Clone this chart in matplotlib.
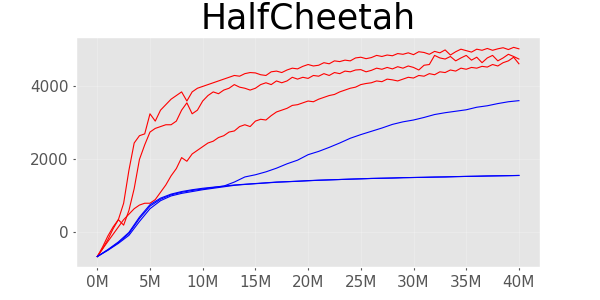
import numpy as np
import matplotlib
matplotlib.use("Agg")
import matplotlib.pyplot as plt

# passos (milhoes) - curvas vermelhas a cada 0.5M, azuis a cada 1M
x_red = np.arange(0, 40.5, 0.5)
x_blue = np.arange(0, 41, 1)

red_1 = [-660, -450, -200, 100, 350, 800, 1700, 2450, 2650, 2700,
         3250, 3050, 3350, 3500, 3650, 3750, 3850, 3600, 3850, 3950,
         4000, 4050, 4100, 4150, 4200, 4250, 4300, 4280, 4350, 4380,
         4370, 4320, 4300, 4400, 4420, 4380, 4450, 4500, 4480, 4550,
         4600, 4560, 4580, 4650, 4620, 4700, 4680, 4720, 4700, 4780,
         4800, 4760, 4790, 4850, 4820, 4860, 4840, 4900, 4880, 4920,
         4870, 4950, 4930, 4880, 4960, 4920, 5000, 4860, 4950, 5020,
         4980, 4940, 5020, 4990, 5040, 4990, 5030, 5060, 5010, 5070,
         5030]

red_2 = [-660, -400, -100, 150, 350, 200, 600, 1200, 2000, 2400,
         2750, 2850, 2900, 2950, 2950, 3050, 3350, 3550, 3250, 3350,
         3600, 3750, 3850, 3800, 3900, 3950, 4050, 3980, 3950, 3900,
         3950, 4050, 4100, 4050, 4150, 4100, 4150, 4250, 4200, 4250,
         4220, 4300, 4280, 4350, 4300, 4380, 4350, 4420, 4400, 4450,
         4460, 4400, 4440, 4500, 4470, 4520, 4480, 4540, 4500, 4560,
         4520, 4450, 4580, 4600, 4850, 4780, 4750, 4820, 4700, 4780,
         4850, 4720, 4800, 4650, 4780, 4850, 4700, 4780, 4880, 4820,
         4750]

red_3 = [-660, -450, -250, -50, 150, 350, 500, 650, 750, 800,
         800, 900, 1100, 1300, 1550, 1750, 2050, 1950, 2150, 2250,
         2350, 2450, 2500, 2600, 2650, 2750, 2780, 2900, 2950, 2900,
         3050, 3100, 3080, 3200, 3300, 3350, 3400, 3480, 3500, 3550,
         3600, 3580, 3650, 3700, 3750, 3780, 3850, 3900, 3950, 3980,
         4050, 4080, 4100, 4150, 4130, 4200, 4180, 4150, 4200, 4250,
         4230, 4300, 4280, 4350, 4320, 4400, 4380, 4450, 4420, 4500,
         4470, 4520, 4500, 4550, 4530, 4600, 4560, 4650, 4700, 4800,
         4620]

blue_1 = [-660, -480, -280, -30, 380, 720, 910, 1030, 1100, 1150,
          1190, 1230, 1270, 1380, 1520, 1580, 1660, 1760, 1880, 1980,
          2130, 2220, 2330, 2450, 2580, 2680, 2770, 2860, 2960, 3030,
          3080, 3150, 3230, 3280, 3320, 3360, 3430, 3470, 3530, 3580,
          3610]

blue_2 = [-660, -470, -260, 0, 420, 760, 940, 1050, 1120, 1170,
          1210, 1240, 1270, 1300, 1320, 1340, 1360, 1380, 1390, 1400,
          1420, 1430, 1440, 1450, 1460, 1470, 1480, 1485, 1490, 1500,
          1505, 1510, 1515, 1520, 1530, 1535, 1540, 1545, 1550, 1555,
          1560]

blue_3 = [-660, -490, -300, -80, 300, 650, 870, 1000, 1070, 1120,
          1170, 1210, 1250, 1290, 1315, 1335, 1355, 1375, 1390, 1405,
          1415, 1430, 1440, 1450, 1460, 1468, 1478, 1485, 1492, 1500,
          1505, 1510, 1518, 1522, 1528, 1535, 1540, 1548, 1552, 1556,
          1562]

xticks = [0, 5, 10, 15, 20, 25, 30, 35, 40]
xtick_labels = ["0M", "5M", "10M", "15M", "20M", "25M", "30M", "35M", "40M"]
yticks = [0, 2000, 4000]

plt.style.use("ggplot")
fig = plt.figure(figsize=(6, 3), dpi=100)
ax = fig.add_axes([0.127, 0.11, 0.773, 0.767])

for y in (red_1, red_2, red_3):
    ax.plot(x_red, y, color="red", linewidth=0.8)
for y in (blue_1, blue_2, blue_3):
    ax.plot(x_blue, y, color="blue", linewidth=0.8)

ax.grid(True, color="white", alpha=0.2, linewidth=0.8)
ax.set_xticks(xticks)
ax.set_xticklabels(xtick_labels)
ax.set_yticks(yticks)
ax.tick_params(labelsize=11, colors="#555555", length=2)
ax.set_title("HalfCheetah", fontsize=25, pad=6)

fig.savefig("out.png", dpi=100)
